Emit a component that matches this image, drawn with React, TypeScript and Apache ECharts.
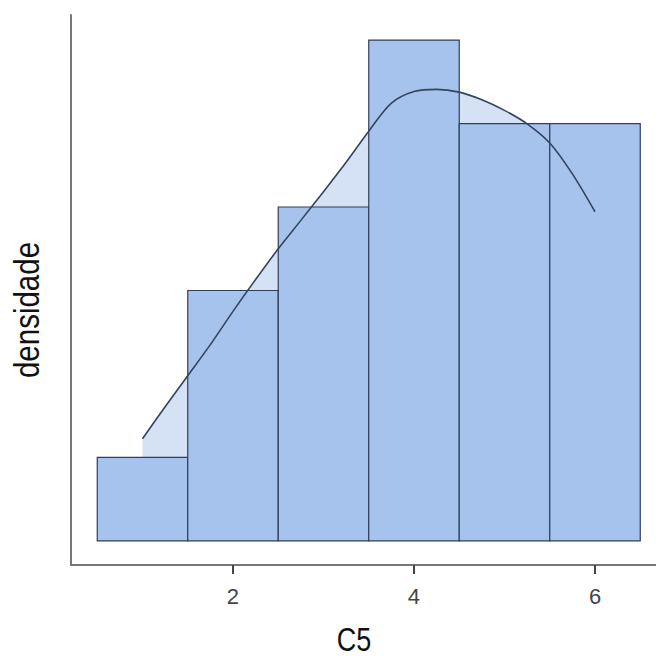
import React, { useEffect, useRef } from "react";
import * as echarts from "echarts";

const binStarts = [0.5, 1.5, 2.5, 3.5, 4.5, 5.5];
const binWidth = 1;
const binCounts = [1, 3, 4, 6, 5, 5];
const curveX = [1, 1.25, 1.5, 1.75, 2, 2.25, 2.5, 2.75, 3, 3.25, 3.5, 3.75, 4, 4.25, 4.5, 4.75, 5, 5.25, 5.5, 5.75, 6];
const curveY = [0.051, 0.067, 0.0825, 0.098, 0.1146, 0.1305, 0.1458, 0.16, 0.1743, 0.189, 0.2045, 0.2185, 0.2243, 0.2254, 0.224, 0.2202, 0.2149, 0.2082, 0.1986, 0.1832, 0.1643];
const xTicks = [2, 4, 6];
const xName = "C5";
const yName = "densidade";

const FONT = '"Liberation Sans", Arial, sans-serif';

export default function App() {
  const ref = useRef<HTMLDivElement>(null);
  useEffect(() => {
    document.body.style.margin = "0";
    if (!ref.current) return;
    const chart = echarts.init(ref.current, null, { renderer: "svg" });
    const total = binCounts.reduce((a, b) => a + b, 0);
    const bins = binStarts.map((s, i) => [s, s + binWidth, binCounts[i] / (total * binWidth)]);
    const curve = curveX.map((x, i) => [x, curveY[i]]);
    chart.setOption({
      animation: false,
      grid: { left: 71, right: 0, top: 15, bottom: 94 },
      xAxis: {
        type: "value",
        min: 0.21,
        max: 6.674,
        splitLine: { show: false },
        axisLine: { show: true, onZero: false, lineStyle: { color: "#777", width: 2 } },
        axisTick: { show: true, customValues: xTicks, length: 9, lineStyle: { color: "#444", width: 2 } },
        axisLabel: { customValues: xTicks, margin: 20, fontSize: 22, color: "#444", fontFamily: FONT },
      },
      yAxis: {
        type: "value",
        min: -0.012,
        max: 0.2625,
        splitLine: { show: false },
        axisLine: { show: true, onZero: false, lineStyle: { color: "#777", width: 2 } },
        axisTick: { show: false },
        axisLabel: { show: false },
      },
      graphic: [
        {
          type: "text",
          x: 354,
          y: 640,
          scaleX: 0.82,
          style: {
            text: xName,
            fontSize: 33,
            lineHeight: 33,
            fontFamily: FONT,
            fill: "#111",
            align: "center",
            verticalAlign: "middle",
          },
        },
        {
          type: "text",
          x: 26,
          y: 310,
          rotation: Math.PI / 2,
          scaleX: 0.82,
          style: {
            text: yName,
            fontSize: 36,
            lineHeight: 36,
            fontFamily: FONT,
            fill: "#111",
            align: "center",
            verticalAlign: "middle",
          },
        },
      ],
      series: [
        {
          type: "line",
          data: curve,
          smooth: 0.3,
          showSymbol: false,
          lineStyle: { width: 0 },
          areaStyle: { color: "#d5e1f5", opacity: 1 },
          z: 1,
        },
        {
          type: "custom",
          data: bins,
          encode: { x: [0, 1], y: 2 },
          z: 2,
          renderItem: (params: any, api: any) => {
            const p0 = api.coord([api.value(0), api.value(2)]);
            const p1 = api.coord([api.value(1), 0]);
            return {
              type: "rect",
              shape: { x: p0[0], y: p0[1], width: p1[0] - p0[0], height: p1[1] - p0[1] },
              style: { fill: "#a6c3ee", stroke: "#2f3f5a", lineWidth: 1.2 },
            };
          },
        },
        {
          type: "line",
          data: curve,
          smooth: 0.3,
          showSymbol: false,
          lineStyle: { width: 1.6, color: "#34445e" },
          z: 3,
        },
      ],
    });
    return () => chart.dispose();
  }, []);
  return <div ref={ref} style={{ width: 656, height: 659 }} />;
}
